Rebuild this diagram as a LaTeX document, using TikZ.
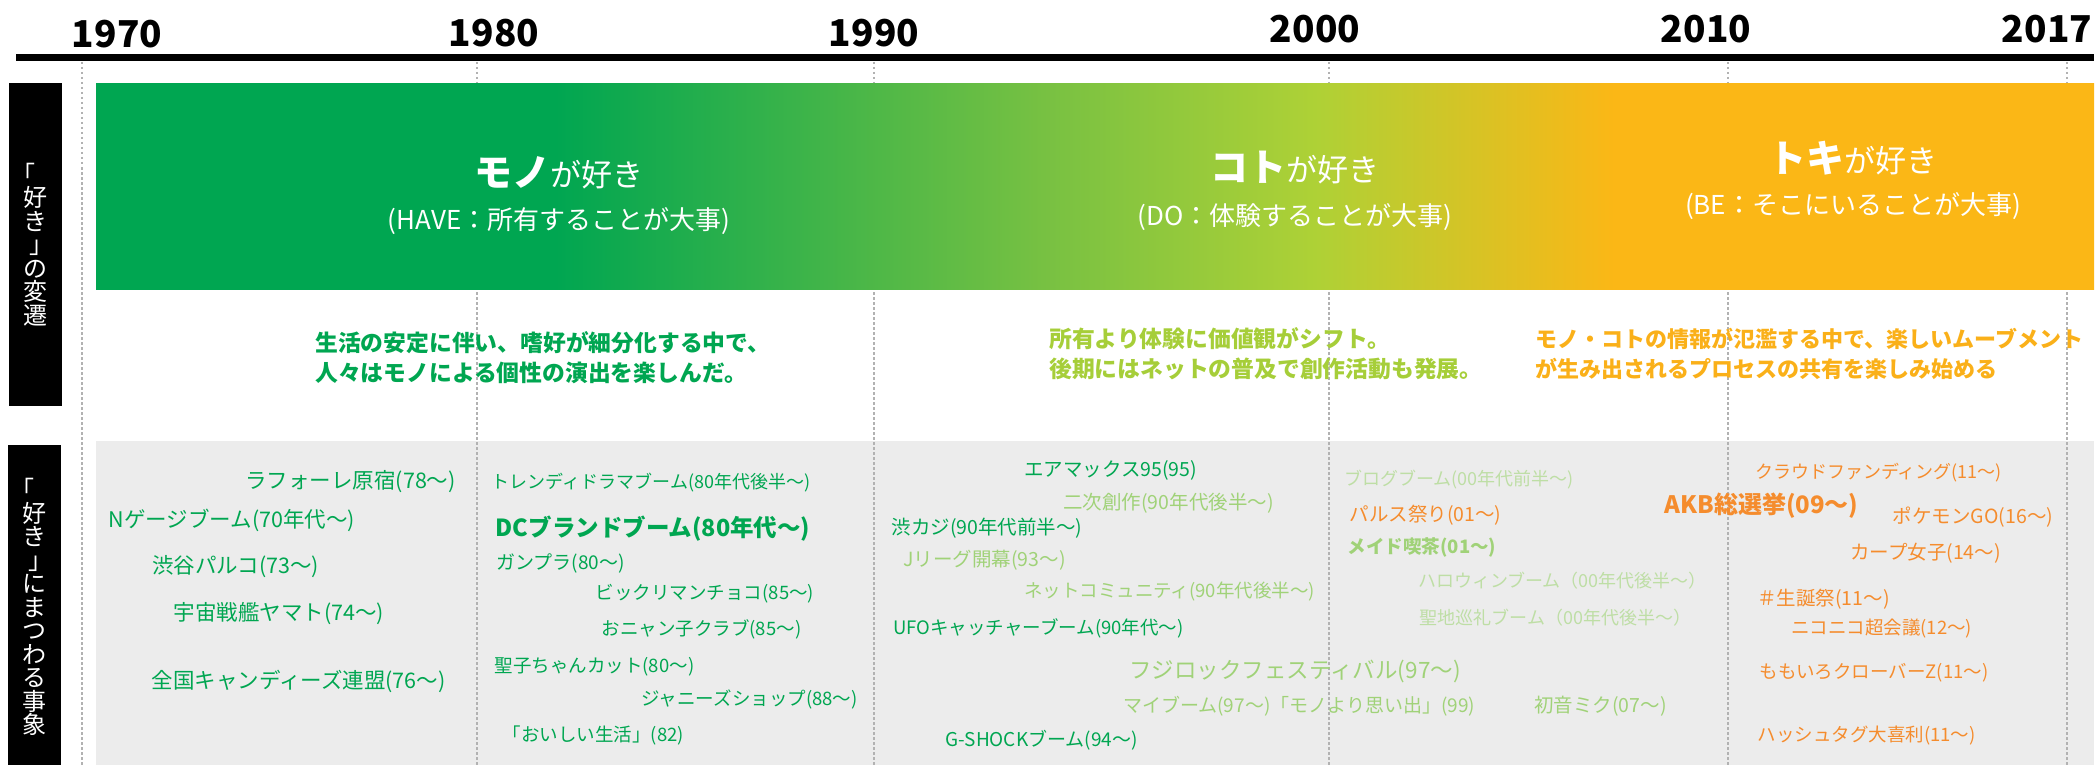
\documentclass[tikz,border=0pt]{standalone}
\usepackage{fontspec}
\setmainfont{Noto Sans CJK JP}
\usepackage{xcolor}
\usetikzlibrary{positioning}
\definecolor{grn}{RGB}{0,166,81}
\definecolor{grnA}{RGB}{120,193,66}
\definecolor{grnB}{RGB}{174,209,54}
\definecolor{orgband}{RGB}{251,183,22}
\definecolor{limetxt}{RGB}{166,206,57}
\definecolor{orgtxt}{RGB}{250,176,25}
\definecolor{lgrn}{RGB}{160,210,120}
\definecolor{pgrn}{RGB}{190,222,165}
\definecolor{evorg}{RGB}{245,140,45}
\definecolor{bggray}{RGB}{236,236,236}
\pgfdeclarehorizontalshading{bandshade}{100bp}{color(0bp)=(grn); color(36.5bp)=(grn); color(48.8bp)=(grnA); color(55.5bp)=(grnB); color(63bp)=(orgband); color(100bp)=(orgband)}
\newcommand{\lkagi}{\hspace*{-0.5em}「\hspace*{0.5em}}
\newcommand{\rkagi}{\hspace*{0.5em}」\hspace*{-0.5em}}
\tikzset{
  yrlab/.style={inner sep=0pt, font=\bfseries\fontsize{37}{37}\selectfont},
  yrline/.style={draw=black!30, line width=1.5pt, dash pattern=on 2.5pt off 2.5pt},
  vlab/.style={text=white, align=center, inner sep=0pt, font=\fontsize{24}{23.5}\selectfont},
  ttl/.style={text=white, inner sep=0pt, font=\fontsize{31}{31}\selectfont},
  subttl/.style={text=white, inner sep=0pt, font=\fontsize{26}{26}\selectfont},
  desc/.style={anchor=west, align=left, inner sep=0pt, font=\bfseries\fontsize{#1}{30}\selectfont},
  ev/.style={inner sep=0pt, font=\fontsize{#1}{#1}\selectfont},
  evb/.style={inner sep=0pt, font=\bfseries\fontsize{#1}{#1}\selectfont},
  cg/.style={text=grn}, cl/.style={text=lgrn}, cp/.style={text=pgrn}, co/.style={text=evorg}
}
\begin{document}
\begin{tikzpicture}[x=1pt,y=-1pt]
\useasboundingbox (0,0) rectangle (2096,765);
\fill[bggray] (96,441) rectangle (2094,765);
\foreach \xx in {82,477,874,1329,1728,2067}
  \draw[yrline] (\xx,62) -- (\xx,765);
\fill (16,54) rectangle (2094,61);
\foreach \yr/\xx/\yy in {1970/117/34,1980/494/33,1990/874/33,2000/1315/29,2010/1706/29,2017/2047/29}
  \node[yrlab] (y\yr) at (\xx,\yy) {\yr};

\shade[shading=bandshade] (96,84) rectangle (2094,289);

\fill (9,83) rectangle (62,406);
\node[vlab] (v1) at (35.5,244.5) {\lkagi\\好\\き\\\rkagi\\の\\変\\遷};
\fill (8,445) rectangle (61,765);
\node[vlab] (v2) at (34.5,607) {\lkagi\\好\\き\\\rkagi\\に\\ま\\つ\\わ\\る\\事\\象};

\node[ttl] (m1) at (559,173) {{\bfseries\fontsize{38}{38}\selectfont モノ}が好き};
\node[subttl, below=18pt of m1] (s1) {(HAVE：所有することが大事)};
\node[ttl] (m2) at (1295,168) {{\bfseries\fontsize{38}{38}\selectfont コト}が好き};
\node[subttl, below=19pt of m2] (s2) {(DO：体験することが大事)};
\node[ttl] (m3) at (1853,158) {{\bfseries\fontsize{38}{38}\selectfont トキ}が好き};
\node[subttl, below=17pt of m3] (s3) {(BE：そこにいることが大事)};

\node[desc=22.8, text=grn] (d1) at (315,357.5) {生活の安定に伴い、嗜好が細分化する中で、\\人々はモノによる個性の演出を楽しんだ。};
\node[desc=22.8, text=limetxt] (d2) at (1049,354) {所有より体験に価値観がシフト。\\後期にはネットの普及で創作活動も発展。};
\node[desc=22, text=orgtxt] (d3) at (1535,354) {モノ・コトの情報が氾濫する中で、楽しいムーブメント\\が生み出されるプロセスの共有を楽しみ始める};

\node[ev=21.5, cg] (e1) at (350.5,482) {ラフォーレ原宿(78～)};
\node[ev=21.5, cg] (e2) at (232,520) {Nゲージブーム(70年代～)};
\node[ev=21.5, cg] (e3) at (235.5,567) {渋谷パルコ(73～)};
\node[ev=21.5, cg] (e4) at (279,614) {宇宙戦艦ヤマト(74～)};
\node[ev=21.5, cg] (e5) at (298.5,681) {全国キャンディーズ連盟(76～)};
\node[ev=18, cg] (e6) at (651,483) {トレンディドラマブーム(80年代後半～)};
\node[evb=23.5, cg] (e7) at (653,529) {DCブランドブーム(80年代～)};
\node[ev=19, cg] (e8) at (560.5,563) {ガンプラ(80～)};
\node[ev=18.5, cg] (e9) at (705,594) {ビックリマンチョコ(85～)};
\node[ev=18.5, cg] (e10) at (701.5,629) {おニャン子クラブ(85～)};
\node[ev=18.5, cg] (e11) at (594.5,667) {聖子ちゃんカット(80～)};
\node[ev=18.5, cg] (e12) at (749.5,699) {ジャニーズショップ(88～)};
\node[ev=18.5, cg] (e13) at (593.5,735) {「おいしい生活」(82)};

\node[ev=19.5, cg] (e14) at (1110.5,470) {エアマックス95(95)};
\node[ev=19.5, cl] (e15) at (1168.5,503) {二次創作(90年代後半～)};
\node[ev=19.5, cg] (e16) at (987,528) {渋カジ(90年代前半～)};
\node[ev=19.5, cl] (e17) at (984.5,560) {Jリーグ開幕(93～)};
\node[ev=18.5, cl] (e18) at (1169.5,592) {ネットコミュニティ(90年代後半～)};
\node[ev=18.5, cg] (e19) at (1038.5,628) {UFOキャッチャーブーム(90年代～)};
\node[ev=22.5, cl] (e20) at (1295,671) {フジロックフェスティバル(97～)};
\node[ev=19, cl] (e21) at (1299,706) {マイブーム(97～)「モノより思い出」(99)};
\node[ev=19, cg] (e22) at (1041.5,740) {G-SHOCKブーム(94～)};

\node[ev=18, cp] (e23) at (1459,480) {ブログブーム(00年代前半～)};
\node[ev=19.5, co] (e24) at (1425.5,515) {パルス祭り(01～)};
\node[evb=18.5, cl] (e25) at (1422,547) {メイド喫茶(01～)};
\node[ev=18, cp] (e26) at (1562.5,581) {ハロウィンブーム（00年代後半～）};
\node[ev=18, cp] (e27) at (1555.5,618) {聖地巡礼ブーム（00年代後半～）};
\node[ev=19.5, cl] (e28) at (1600.5,706) {初音ミク(07～)};

\node[ev=18, co] (e29) at (1878.5,473) {クラウドファンディング(11～)};
\node[evb=24, co] (e30) at (1761.5,506) {AKB総選挙(09～)};
\node[ev=19.5, co] (e31) at (1973,517) {ポケモンGO(16～)};
\node[ev=19.5, co] (e32) at (1925.5,553) {カープ女子(14～)};
\node[ev=19.5, co] (e33) at (1823.5,599) {＃生誕祭(11～)};
\node[ev=18.5, co] (e34) at (1881.5,629) {ニコニコ超会議(12～)};
\node[ev=18.5, co] (e35) at (1874,673) {ももいろクローバーZ(11～)};
\node[ev=18.5, co] (e36) at (1866.5,736) {ハッシュタグ大喜利(11～)};
\end{tikzpicture}
\end{document}
